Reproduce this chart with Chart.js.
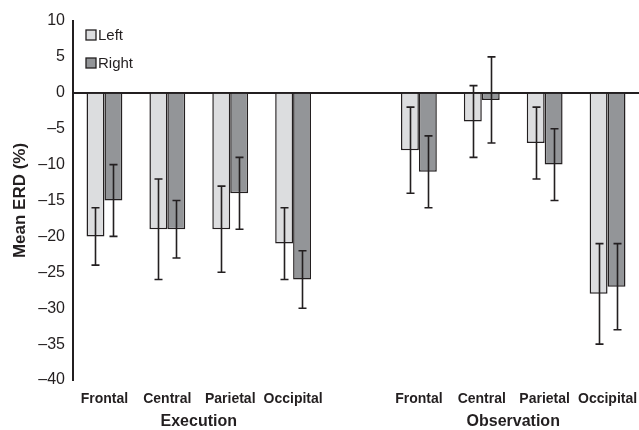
<!DOCTYPE html>
<html>
<head>
<meta charset="utf-8">
<script src="https://cdn.jsdelivr.net/npm/chart.js@4"></script>
<style>
    html, body { margin: 0; padding: 0; background: #fff; }
    #wrap { width: 639px; height: 430px; position: relative; }
</style>
</head>
<body>
<div id="wrap"><canvas id="erdChart"></canvas></div>
<script>
// Chart data
const categories = ['Frontal', 'Central', 'Parietal', 'Occipital', '', 'Frontal', 'Central', 'Parietal', 'Occipital'];
const groupNames = ['Execution', 'Observation'];
const groupRanges = [[0, 3], [5, 8]];
const seriesNames = ['Left', 'Right'];
const leftMean = [-20, -19, -19, -21, null, -8, -4, -7, -28];
const leftErr = [4, 7, 6, 5, null, 6, 5, 5, 7];
const rightMean = [-15, -19, -14, -26, null, -11, -1, -10, -27];
const rightErr = [5, 4, 5, 4, null, 5, 6, 5, 6];
const yTicks = [10, 5, 0, -5, -10, -15, -20, -25, -30, -35, -40];

const ink = '#231f20';
const fontFamily = '"Liberation Sans", Arial, sans-serif';

// error bars drawn on top of each bar
const errorBarPlugin = {
    id: 'errorBars',
    afterDatasetsDraw(chart) {
        const ctx = chart.ctx;
        const yScale = chart.scales.y;
        const errs = [leftErr, rightErr];
        ctx.save();
        ctx.strokeStyle = ink;
        ctx.lineWidth = 1.6;
        chart.data.datasets.forEach((ds, i) => {
            const meta = chart.getDatasetMeta(i);
            meta.data.forEach((bar, j) => {
                const v = ds.data[j];
                const e = errs[i][j];
                if (v === null || e === null) return;
                const x = Math.round(bar.x) + 0.5;
                const yTop = yScale.getPixelForValue(v + e);
                const yBot = yScale.getPixelForValue(v - e);
                ctx.beginPath();
                ctx.moveTo(x, yTop);
                ctx.lineTo(x, yBot);
                ctx.moveTo(x - 4, yTop);
                ctx.lineTo(x + 4, yTop);
                ctx.moveTo(x - 4, yBot);
                ctx.lineTo(x + 4, yBot);
                ctx.stroke();
            });
        });
        ctx.restore();
    }
};

// legend in the top-left corner, stacked
const cornerLegendPlugin = {
    id: 'cornerLegend',
    afterDraw(chart) {
        const ctx = chart.ctx;
        const area = chart.chartArea;
        ctx.save();
        ctx.font = '15px ' + fontFamily;
        ctx.textBaseline = 'middle';
        chart.data.datasets.forEach((ds, i) => {
            const y = area.top + 14 + i * 28;
            const x = area.left + 13;
            ctx.fillStyle = ds.backgroundColor;
            ctx.fillRect(x, y - 5, 10, 10);
            ctx.strokeStyle = ink;
            ctx.lineWidth = 1.3;
            ctx.strokeRect(x, y - 5, 10, 10);
            ctx.fillStyle = ink;
            ctx.fillText(ds.label, x + 12, y + 1);
        });
        ctx.restore();
    }
};

// group titles under the category labels
const groupTitlePlugin = {
    id: 'groupTitles',
    afterDraw(chart) {
        const ctx = chart.ctx;
        const xScale = chart.scales.x;
        ctx.save();
        ctx.font = 'bold 16px ' + fontFamily;
        ctx.fillStyle = ink;
        ctx.textAlign = 'center';
        ctx.textBaseline = 'middle';
        groupNames.forEach((name, i) => {
            const [a, b] = groupRanges[i];
            const x = (xScale.getPixelForValue(a) + xScale.getPixelForValue(b)) / 2;
            ctx.fillText(name, x, xScale.top + 42);
        });
        ctx.restore();
    }
};

new Chart(document.getElementById('erdChart'), {
    type: 'bar',
    data: {
        labels: categories,
        datasets: [{
            label: seriesNames[0],
            data: leftMean,
            backgroundColor: '#dcdddf',
            borderColor: ink,
            borderWidth: 1.5
        }, {
            label: seriesNames[1],
            data: rightMean,
            backgroundColor: '#939598',
            borderColor: ink,
            borderWidth: 1.5
        }]
    },
    options: {
        responsive: true,
        maintainAspectRatio: false,
        animation: false,
        datasets: {
            bar: {
                categoryPercentage: 0.57,
                barPercentage: 1.0
            }
        },
        layout: {
            padding: { top: 21, right: 0, bottom: 0, left: 0 }
        },
        plugins: {
            legend: { display: false },
            tooltip: { enabled: false }
        },
        scales: {
            x: {
                grid: { display: false },
                border: { display: false },
                ticks: {
                    color: ink,
                    font: { family: fontFamily, size: 14, weight: 'bold' },
                    padding: 3,
                    autoSkip: false,
                    maxRotation: 0
                },
                afterFit(scale) {
                    scale.height = 50;
                    scale.paddingLeft = 0;
                    scale.paddingRight = 0;
                }
            },
            y: {
                min: -40,
                max: 10,
                afterBuildTicks(scale) {
                    scale.ticks = yTicks.map(v => ({ value: v }));
                },
                border: { display: true, color: ink, width: 2 },
                grid: {
                    drawTicks: false,
                    color: (c) => (c.tick && c.tick.value === 0 ? ink : 'rgba(0,0,0,0)'),
                    lineWidth: 2
                },
                ticks: {
                    color: ink,
                    padding: 8,
                    font: { family: fontFamily, size: 16 },
                    callback: (v) => (v < 0 ? '\u2013' + Math.abs(v) : String(v))
                },
                title: {
                    display: true,
                    text: 'Mean ERD (%)',
                    color: ink,
                    font: { family: fontFamily, size: 17, weight: 'bold' },
                    padding: { top: 10, bottom: 0 }
                },
                afterFit(scale) {
                    scale.width = 73;
                }
            }
        }
    },
    plugins: [errorBarPlugin, cornerLegendPlugin, groupTitlePlugin]
});
</script>
</body>
</html>
